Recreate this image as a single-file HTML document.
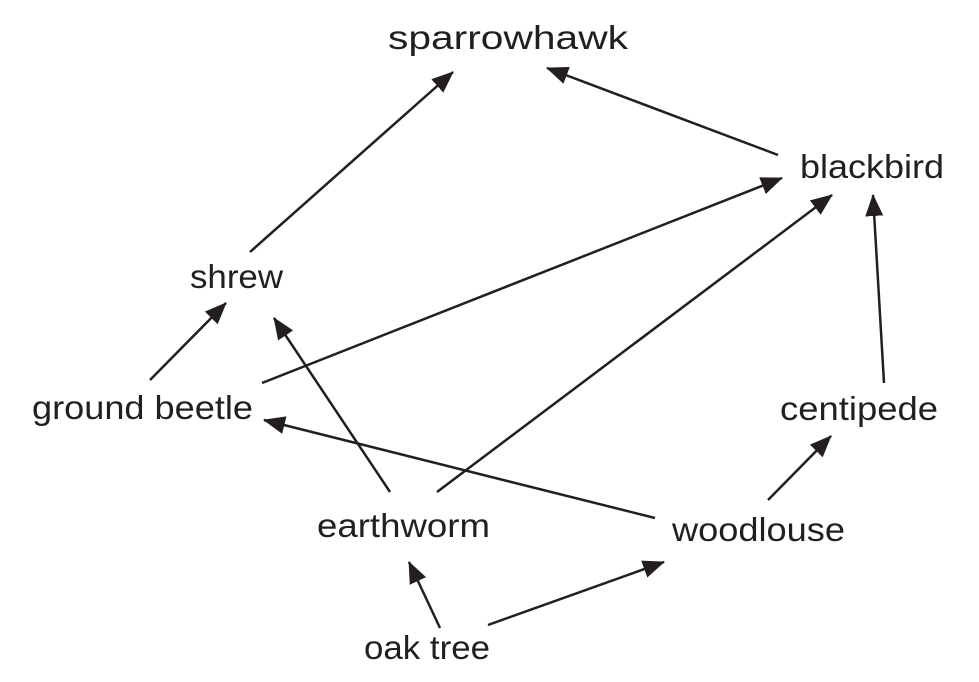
<!DOCTYPE html>
<html><head><style>
html,body{margin:0;padding:0;background:#fff;}
svg{display:block;}
text{font-family:"Liberation Sans",sans-serif;font-size:33px;fill:#231f20;}
</style></head><body>
<svg width="979" height="682" viewBox="0 0 979 682">
<defs>
<marker id="a" markerUnits="userSpaceOnUse" markerWidth="22" markerHeight="18" refX="21" refY="9" orient="auto">
<path d="M0,0 L22,9 L0,18 Z" fill="#231f20"/>
</marker>
</defs>
<g stroke="#231f20" stroke-width="2.5" fill="none" marker-end="url(#a)">
<line x1="250" y1="252" x2="453" y2="72"/>
<line x1="778" y1="155" x2="547" y2="68"/>
<line x1="262" y1="383" x2="782" y2="178"/>
<line x1="437" y1="492" x2="832" y2="195"/>
<line x1="884" y1="383" x2="873" y2="195"/>
<line x1="150" y1="380" x2="226" y2="303"/>
<line x1="390" y1="492" x2="274" y2="318"/>
<line x1="655" y1="518" x2="264" y2="420"/>
<line x1="768" y1="500" x2="831" y2="436"/>
<line x1="440" y1="628" x2="409" y2="562"/>
<line x1="488" y1="625" x2="664" y2="562"/>
</g>
<text x="388" y="49" textLength="240" lengthAdjust="spacingAndGlyphs">sparrowhawk</text>
<text x="800" y="178" textLength="144" lengthAdjust="spacingAndGlyphs">blackbird</text>
<text x="190" y="288" textLength="93" lengthAdjust="spacingAndGlyphs">shrew</text>
<text x="32" y="419" textLength="221" lengthAdjust="spacingAndGlyphs">ground beetle</text>
<text x="780" y="420" textLength="158" lengthAdjust="spacingAndGlyphs">centipede</text>
<text x="317" y="537" textLength="173" lengthAdjust="spacingAndGlyphs">earthworm</text>
<text x="672" y="541" textLength="173" lengthAdjust="spacingAndGlyphs">woodlouse</text>
<text x="364" y="659" textLength="126" lengthAdjust="spacingAndGlyphs">oak tree</text>
</svg>
</body></html>
